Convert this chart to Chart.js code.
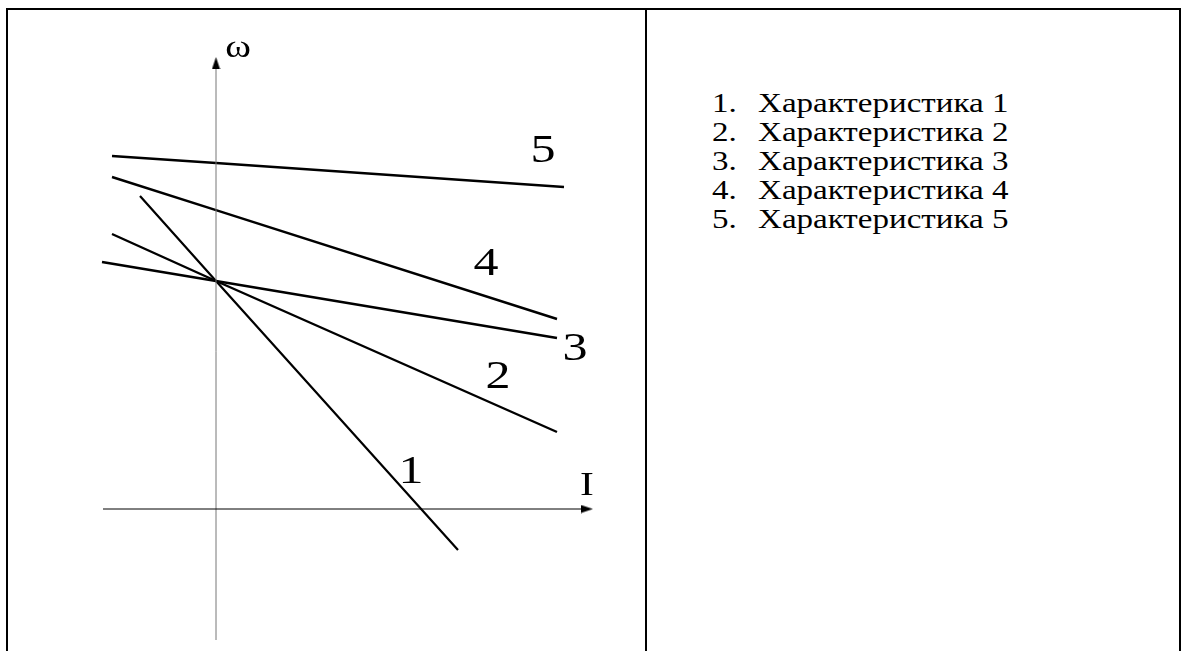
<!DOCTYPE html>
<html>
<head>
<meta charset="utf-8">
<script src="https://cdn.jsdelivr.net/npm/chart.js@4"></script>
<style>
  html, body { margin: 0; padding: 0; background: #fff; }
  body { width: 1185px; height: 651px; position: relative; overflow: hidden; font-family: "Liberation Serif", "Times New Roman", serif; }
  .frame { position: absolute; left: 6px; top: 8px; width: 1171px; height: 660px; border: 2px solid #000; border-bottom: none; }
  .divider { position: absolute; left: 645px; top: 8px; width: 2px; height: 660px; background: #000; }
  .plot { position: absolute; left: 8px; top: 10px; width: 637px; height: 641px; }
  .legend { position: absolute; left: 712px; top: 88px; margin: 0; padding: 0; list-style: none; font-size: 28px; line-height: 29px; color: #000; transform: scaleX(1.18); transform-origin: 0 0; }
  .legend li { white-space: nowrap; }
  .legend .num { display: inline-block; width: 39px; }
</style>
</head>
<body>
<div class="frame"></div>
<div class="divider"></div>
<div class="plot"><canvas id="chart"></canvas></div>
<ol class="legend" id="legend"></ol>

<script>
// Characteristic names (right-hand list)
const seriesNames = ["Характеристика 1", "Характеристика 2", "Характеристика 3", "Характеристика 4", "Характеристика 5"];

// Current I values (start, axis crossing, end)
const current1 = [-1.9, 0, 6.05];
const current2 = [-2.6, 0, 8.525];
const current3 = [-2.85, 0, 8.525];
const current4 = [-2.6, 0, 8.525];
const current5 = [-2.6, 0, 8.7];

// Speed ω values
const speed1 = [7.825, 5.7, -1.025];
const speed2 = [6.875, 5.7, 1.925];
const speed3 = [6.175, 5.7, 4.275];
const speed4 = [8.3, 7.47, 4.75];
const speed5 = [8.825, 8.647, 8.05];

// Axis extents
const axisI = [-2.825, 9.275];
const axisW = [-3.275, 11.15];

// Build legend list
const legendEl = document.getElementById('legend');
seriesNames.forEach((name, i) => {
    const li = document.createElement('li');
    li.innerHTML = `<span class="num">${i + 1}.</span>${name}`;
    legendEl.appendChild(li);
});

// Arrow head image used as point style
function makeArrow() {
    const c = document.createElement('canvas');
    c.width = 12; c.height = 9;
    const g = c.getContext('2d');
    g.fillStyle = '#000';
    g.beginPath();
    g.moveTo(0, 0.5);
    g.lineTo(12, 4.5);
    g.lineTo(0, 8.5);
    g.closePath();
    g.fill();
    return c;
}
const arrow = makeArrow();

function toPoints(xs, ys) {
    return xs.map((x, i) => ({ x: x, y: ys[i] }));
}

const curves = [
    toPoints(current1, speed1),
    toPoints(current2, speed2),
    toPoints(current3, speed3),
    toPoints(current4, speed4),
    toPoints(current5, speed5)
];
const widths = [2.2, 2.4, 2.7, 2.4, 2.5];

const lineSets = curves.map((pts, i) => ({
    label: seriesNames[i],
    data: pts,
    showLine: true,
    borderColor: '#000',
    borderWidth: widths[i],
    pointRadius: 0,
    fill: false
}));

// Labels next to the lines (data coordinates of the text baseline)
const tagPos = [
    { text: '1', x: 4.875, y: 0.65, size: 41 },
    { text: '2', x: 7.05, y: 3.025, size: 41 },
    { text: '3', x: 8.975, y: 3.725, size: 41 },
    { text: '4', x: 6.75, y: 5.85, size: 41 },
    { text: '5', x: 8.175, y: 8.675, size: 41 },
    { text: 'I', x: 9.275, y: 0.35, size: 34 },
    { text: 'ω', x: 0.55, y: 11.3, size: 32 }
];

const tagPlugin = {
    id: 'tags',
    afterDatasetsDraw(chart) {
        const { ctx, scales } = chart;
        ctx.save();
        ctx.fillStyle = '#000';
        ctx.textAlign = 'center';
        ctx.textBaseline = 'alphabetic';
        tagPos.forEach(t => {
            ctx.save();
            ctx.translate(scales.x.getPixelForValue(t.x), scales.y.getPixelForValue(t.y));
            ctx.scale(1.22, 1);
            ctx.font = `${t.size}px "Liberation Serif", "Times New Roman", serif`;
            ctx.fillText(t.text, 0, 0);
            ctx.restore();
        });
        ctx.restore();
    }
};

new Chart(document.getElementById('chart'), {
    type: 'scatter',
    data: {
        datasets: [
            {
                label: 'I axis',
                data: toPoints(axisI, [0, 0]),
                showLine: true,
                borderColor: '#000',
                borderWidth: 1,
                pointRadius: [0, 6],
                pointStyle: arrow,
                pointRotation: 0
            },
            {
                label: 'ω axis',
                data: toPoints([0, 0], axisW),
                showLine: true,
                borderColor: '#777',
                borderWidth: 1,
                pointRadius: [0, 6],
                pointStyle: arrow,
                pointRotation: -90
            },
            ...lineSets
        ]
    },
    options: {
        responsive: true,
        maintainAspectRatio: false,
        animation: false,
        layout: { padding: 0, autoPadding: false },
        plugins: { legend: { display: false }, tooltip: { enabled: false } },
        scales: {
            x: { type: 'linear', min: -5.2, max: 10.725, display: false },
            y: { type: 'linear', min: -3.55, max: 12.475, display: false }
        }
    },
    plugins: [tagPlugin]
});
</script>
</body>
</html>
